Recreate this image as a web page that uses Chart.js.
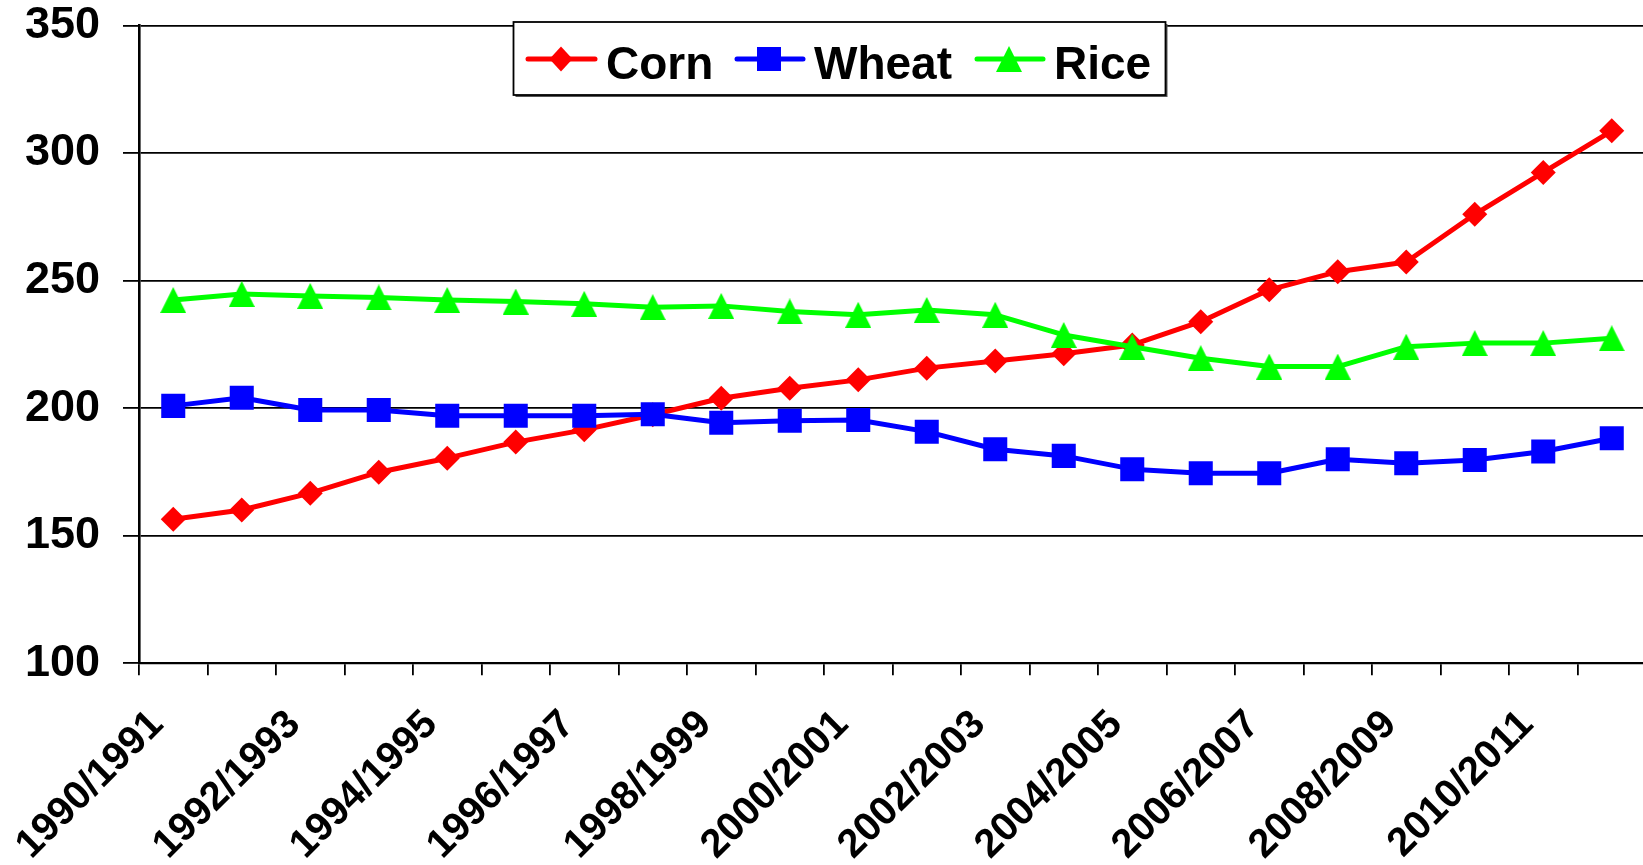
<!DOCTYPE html>
<html>
<head>
<meta charset="utf-8">
<script src="https://cdn.jsdelivr.net/npm/chart.js@4.4.0/dist/chart.umd.min.js"></script>
<style>
  html, body { margin: 0; padding: 0; background: #fff; overflow: hidden; }
  #wrap { width: 1648px; height: 865px; }
</style>
</head>
<body>
<div id="wrap"><canvas id="c" width="1648" height="865"></canvas></div>
<script>
const categories = ["1990/1991","1991/1992","1992/1993","1993/1994","1994/1995","1995/1996","1996/1997","1997/1998","1998/1999","1999/2000","2000/2001","2001/2002","2002/2003","2003/2004","2004/2005","2005/2006","2006/2007","2007/2008","2008/2009","2009/2010","2010/2011","2011/2012"];
const corn  = [156.5,160.1,166.7,174.9,180.4,186.7,191.5,197.4,203.9,207.8,211.1,215.7,218.5,221.3,224.8,233.9,246.4,253.5,257.3,276.0,292.4,308.7];
const wheat = [200.9,204.1,199.3,199.3,197.0,197.0,197.0,197.6,194.3,195.1,195.4,190.8,183.9,181.3,176.1,174.5,174.5,180.0,178.4,179.7,183.0,188.2];
const rice  = [242.4,244.8,244.0,243.4,242.4,241.8,240.9,239.6,240.1,237.9,236.6,238.5,236.6,228.7,224.1,219.6,216.3,216.3,224.1,225.5,225.5,227.4];
const yTicks = [100,150,200,250,300,350];
const seriesNames = ["Corn","Wheat","Rice"];

const RED = "#ff0000", BLUE = "#0000ff", GREEN = "#00ff00";
const FONT = "'Liberation Sans', Arial, sans-serif";
const PLOT_RIGHT = 1646;

function triCanvas(color, w, h) {
  const c = document.createElement('canvas');
  c.width = w; c.height = h;
  const g = c.getContext('2d');
  g.fillStyle = color;
  g.beginPath();
  g.moveTo(w/2, 0); g.lineTo(w, h); g.lineTo(0, h); g.closePath();
  g.fill();
  return c;
}
const triImg = triCanvas(GREEN, 26, 26);

function drawMarker(ctx, kind, x, y, color) {
  ctx.save();
  ctx.fillStyle = color;
  ctx.beginPath();
  if (kind === 'diamond') {
    ctx.moveTo(x, y - 12.5); ctx.lineTo(x + 11.5, y); ctx.lineTo(x, y + 12.5); ctx.lineTo(x - 11.5, y);
  } else if (kind === 'square') {
    ctx.rect(x - 12, y - 12, 24, 24);
  } else {
    ctx.moveTo(x, y - 13); ctx.lineTo(x + 13, y + 13); ctx.lineTo(x - 13, y + 13);
  }
  ctx.closePath();
  ctx.fill();
  ctx.restore();
}

const areaPlugin = {
  id: 'fixArea',
  afterLayout(chart) {
    const ca = chart.chartArea;
    ca.right = PLOT_RIGHT;
    ca.width = ca.right - ca.left;
    const xs = chart.scales.x;
    xs.right = PLOT_RIGHT;
    xs.width = xs.right - xs.left;
    xs.configure();
  }
};

const legendPlugin = {
  id: 'boxLegend',
  afterDraw(chart) {
    const ctx = chart.ctx;
    const bx = 513.5, by = 22, bw = 652, bh = 73;
    ctx.save();
    ctx.fillStyle = '#555';
    ctx.fillRect(bx + 2, by + 2, bw, bh);
    ctx.fillStyle = '#fff';
    ctx.fillRect(bx, by, bw, bh);
    ctx.strokeStyle = '#000';
    ctx.lineWidth = 1.8;
    ctx.strokeRect(bx, by, bw, bh);
    const items = [
      {name: seriesNames[0], color: RED,   kind: 'diamond', x0: 528, x1: 595, mx: 561, tx: 606},
      {name: seriesNames[1], color: BLUE,  kind: 'square',  x0: 737, x1: 803, mx: 769, tx: 814},
      {name: seriesNames[2], color: GREEN, kind: 'tri',     x0: 977, x1: 1043, mx: 1009, tx: 1054}
    ];
    const ly = 59;
    items.forEach(it => {
      ctx.strokeStyle = it.color;
      ctx.lineWidth = 5;
      ctx.lineCap = 'round';
      ctx.beginPath(); ctx.moveTo(it.x0, ly); ctx.lineTo(it.x1, ly); ctx.stroke();
      drawMarker(ctx, it.kind, it.mx, ly, it.color);
      ctx.fillStyle = '#000';
      ctx.font = "bold 46px " + FONT;
      ctx.textAlign = 'left';
      ctx.textBaseline = 'alphabetic';
      ctx.fillText(it.name, it.tx, 79);
    });
    ctx.restore();
  }
};

new Chart(document.getElementById('c'), {
  type: 'line',
  data: {
    labels: categories,
    datasets: [
      {label: seriesNames[0], data: corn, borderColor: RED, backgroundColor: RED, borderWidth: 5,
       pointStyle: 'rectRot', pointRadius: 12.5, pointBorderWidth: 0, pointBackgroundColor: RED,
       borderJoinStyle: 'round', tension: 0, order: 3},
      {label: seriesNames[1], data: wheat, borderColor: BLUE, backgroundColor: BLUE, borderWidth: 5,
       pointStyle: 'rect', pointRadius: 17, pointBorderWidth: 0, pointBackgroundColor: BLUE,
       borderJoinStyle: 'round', tension: 0, order: 2},
      {label: seriesNames[2], data: rice, borderColor: GREEN, backgroundColor: GREEN, borderWidth: 5,
       pointStyle: triImg, pointRadius: 13, pointBorderWidth: 0, pointBackgroundColor: GREEN,
       borderJoinStyle: 'round', tension: 0, order: 1}
    ]
  },
  options: {
    responsive: false,
    animation: false,
    events: [],
    layout: { padding: { top: 25.5, right: 2, left: 0, bottom: 0 } },
    plugins: { legend: { display: false }, tooltip: { enabled: false } },
    scales: {
      x: {
        type: 'category',
        offset: true,
        grid: { display: true, drawOnChartArea: false, drawTicks: true, tickLength: 12, offset: true,
                color: '#000', tickColor: '#000', tickWidth: 1.8, lineWidth: 1.8 },
        border: { display: true, color: '#000', width: 2.2 },
        ticks: {
          autoSkip: false, maxRotation: 45, minRotation: 45, padding: 26, labelOffset: -16, color: '#000',
          font: { family: FONT, size: 40, weight: 'bold', lineHeight: 1.2 },
          callback: function(v, i) { return i % 2 === 0 ? categories[i] : ''; }
        },
        afterFit: function(s) { s.height = 201.7; s.paddingLeft = 0; s.paddingRight = 0; }
      },
      y: {
        min: yTicks[0], max: yTicks[yTicks.length - 1],
        afterBuildTicks: function(s) { s.ticks = yTicks.map(v => ({value: v})); },
        grid: { color: '#000', lineWidth: 1.8, drawTicks: true, tickLength: 16, tickColor: '#000', tickWidth: 1.8 },
        border: { display: true, color: '#000', width: 2.6 },
        ticks: { padding: 23, color: '#000', font: { family: FONT, size: 45, weight: 'bold', lineHeight: 1 } },
        afterFit: function(s) { s.width = 139; s.paddingTop = 0; s.paddingBottom = 0; }
      }
    }
  },
  plugins: [areaPlugin, legendPlugin]
});
</script>
</body>
</html>
